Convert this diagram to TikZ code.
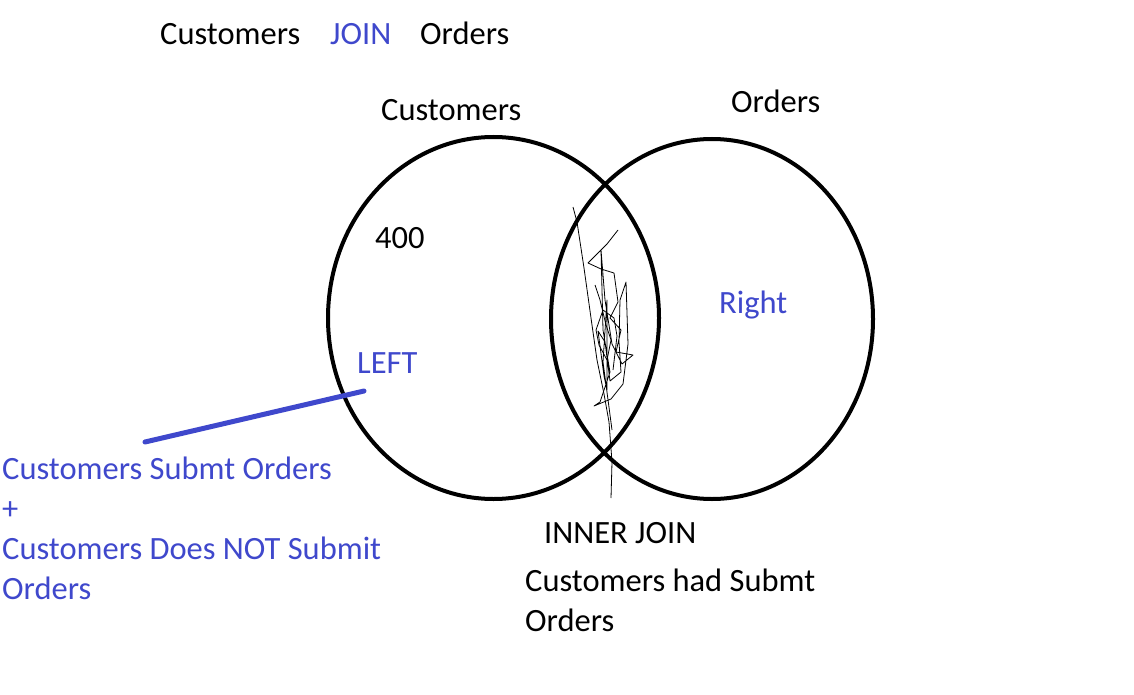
\documentclass[tikz,border=0pt]{standalone}
\usepackage{fontspec}
\setmainfont{Carlito}
\definecolor{paintblue}{RGB}{63,72,204}
\tikzset{
  lbl/.style={anchor=base west, inner sep=0pt, font=\fontsize{32.5}{38}\selectfont},
  bluelbl/.style={lbl, text=paintblue},
  setline/.style={line width=4pt},
  scribble/.style={line width=0.8pt, line join=round}
}

\begin{document}
\begin{tikzpicture}[x=1pt, y=-1pt]
        \useasboundingbox (0,0) rectangle (1134,695);

        % Title
        \node[lbl] (tcust) at (160,45) {Customers};
        \node[bluelbl] (tjoin) at (330,45) {JOIN};
        \node[lbl] (tord) at (420,45) {Orders};

        % Sets
        \draw[setline] (493.5,318) ellipse (165.5 and 181);
        \draw[setline] (712,319) ellipse (161 and 180);
        \node[lbl] (custset) at (381,121) {Customers};
        \node[lbl] (ordset) at (731,113) {Orders};

        % Scribble in the overlap
        \draw[scribble] plot coordinates {(573,207) (577,222) (584,268) (591,318) (597,360)
            (604,394) (609,422) (612,462) (611,498)};
        \draw[scribble] plot coordinates {(618,230) (607,244) (588,263) (601,269) (614,273)
            (618,302) (610,318) (621,330) (616,352) (633,355) (622,364) (612,344)
            (605,300) (601,250) (603,330) (610,372) (600,402) (594,406) (611,399)
            (623,384) (628,344) (626,282) (620,300) (619,342) (621,372) (610,381)
            (605,342) (598,331) (604,376) (607,390) (607,300) (603,362) (612,430)};
        \draw[scribble] plot coordinates {(595,285) (600,300) (606,325) (611,340) (607,360)
            (599,345) (596,330) (603,310) (614,318) (617,336) (613,370)};

        % Set labels
        \node[lbl] (count) at (375,248) {400};
        \node[bluelbl] (right) at (719,313) {Right};
        \node[bluelbl] (left) at (357,373) {LEFT};

        % Pointer to the left set
        \coordinate (ptrend) at (364,391);
        \coordinate (ptrstart) at (145,442);
        \draw[paintblue, line width=5pt, line cap=round] (ptrstart) -- (ptrend);

        % Notes
        \node[bluelbl] (leftnote1) at (2,479) {Customers Submt Orders};
        \node[bluelbl] (leftnote2) at (2,519) {+};
        \node[bluelbl] (leftnote3) at (2,559) {Customers Does NOT Submit};
        \node[bluelbl] (leftnote4) at (2,599) {Orders};
        \node[lbl] (inner) at (544,543) {INNER JOIN};
        \node[lbl] (innernote1) at (525,591) {Customers had Submt};
        \node[lbl] (innernote2) at (525,631) {Orders};
    \end{tikzpicture}
\end{document}
